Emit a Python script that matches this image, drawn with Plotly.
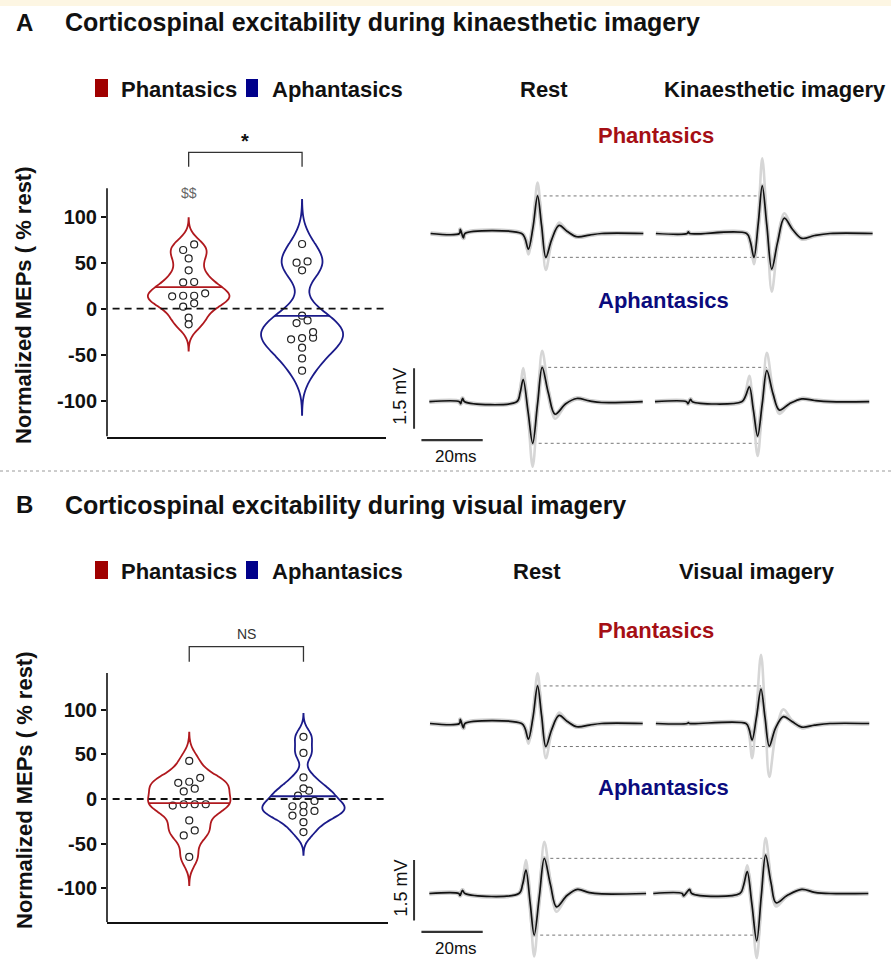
import numpy as np
import plotly.graph_objects as go

W, H = 891, 960
FONT = "Liberation Sans, Arial, sans-serif"
RED = "#B0191E"
BLUE = "#1B1B8A"
RED_TXT = "#A50F15"
BLUE_TXT = "#0B0B7D"
LEG_RED = "#A00000"
LEG_BLUE = "#00008B"

# ---------------- data: normalized MEPs (% rest) ----------------
GROUPS = ["Phantasics", "Aphantasics"]
Y_TICKS = [-100, -50, 0, 50, 100]
Y_TICK_TEXT = ["-100", "-50", "0", "50", "100"]

KIN_PHANT = [63.8, 69.9, 54.7, 41.7, 28.6, 29.0, 13.4, 16.7, 14.1, 14.1, 2.2, 5.8, -9.8, -17.0]
KIN_APHANT = [70.3, 50.0, 51.4, 41.7, -7.6, -12.7, -15.6, -31.5, -25.4, -31.9, -33.3, -42.4, -54.0, -67.4]
VIS_PHANT = [42.6, 23.7, 18.1, 19.3, 11.5, 8.5, -5.9, -5.9, -7.4, -5.9, -24.0, -35.2, -40.7, -64.8]
VIS_APHANT = [69.6, 51.5, 24.1, 9.3, 11.9, 3.7, -7.4, -13.3, -2.2, -8.1, -14.8, -18.5, -25.9, -37.0]

# ---------------- data: MEP waveforms (ms, mV) ----------------
# kinaesthetic panel
KIN_PH_REST_T = [0.2, 9.6, 9.9, 10.9, 11.4, 29.9, 31.0, 32.1, 33.6, 35.1, 36.4, 37.8, 39.7, 42.1, 44.8, 47.9, 52.0, 56.0, 69.6]
KIN_PH_REST_MV = [0, 0, 0.10, -0.11, 0, 0, -0.12, -0.39, 0.15, 0.93, 0.20, -0.59, -0.15, 0.20, 0.05, -0.08, -0.04, 0, 0]
KIN_PH_REST_TRIAL = [0, 0, 0.10, -0.11, 0, 0, -0.16, -0.52, 0.22, 1.26, 0.26, -0.90, -0.22, 0.27, 0.07, -0.10, -0.05, 0, 0]

KIN_PH_IMG_T = [0.2, 10.4, 10.8, 11.2, 29.8, 31.0, 32.2, 33.6, 34.9, 36.4, 38.0, 39.9, 42.1, 44.8, 47.8, 52.0, 57.0, 70.9]
KIN_PH_IMG_MV = [0, 0, 0.04, 0, 0, -0.20, -0.59, 0.25, 1.18, 0.20, -0.88, -0.22, 0.38, 0.10, -0.12, -0.05, 0, 0]
KIN_PH_IMG_TRIAL = [0, 0, 0.04, 0, 0, -0.26, -0.76, 0.34, 1.86, 0.30, -1.44, -0.32, 0.50, 0.13, -0.15, -0.06, 0, 0]

KIN_APH_REST_T = [-0.2, 9.6, 10.0, 10.6, 11.3, 28.3, 29.4, 30.4, 32.0, 33.5, 35.1, 36.6, 38.6, 40.8, 44.3, 47.9, 52.0, 56.0, 69.4]
KIN_APH_REST_MV = [0, 0, -0.05, 0.08, 0, 0, 0.22, 0.55, -0.25, -1.03, -0.05, 0.85, 0.22, -0.31, -0.05, 0.08, 0.02, -0.02, 0]
KIN_APH_REST_TRIAL = [0, 0, -0.05, 0.08, 0, 0, 0.32, 0.83, -0.36, -1.61, -0.10, 1.26, 0.32, -0.42, -0.08, 0.10, 0.03, -0.02, 0]

KIN_APH_IMG_T = [-0.1, 10.2, 10.7, 11.5, 12.1, 28.2, 29.4, 30.7, 32.0, 33.4, 34.9, 36.4, 38.4, 40.5, 43.8, 47.8, 52.0, 57.0, 69.8]
KIN_APH_IMG_MV = [0, 0, -0.05, 0.06, 0, 0, 0.13, 0.37, -0.20, -0.85, -0.05, 0.77, 0.20, -0.21, -0.05, 0.07, 0.03, 0, 0]
KIN_APH_IMG_TRIAL = [0, 0, -0.05, 0.06, 0, 0, 0.22, 0.64, -0.30, -1.34, -0.10, 1.21, 0.30, -0.30, -0.06, 0.09, 0.03, 0, 0]

# visual panel
VIS_PH_REST_T = [0.0, 9.6, 9.9, 10.9, 11.4, 29.9, 31.0, 32.1, 33.6, 35.1, 36.4, 37.8, 39.7, 42.1, 44.8, 47.9, 52.0, 56.0, 69.4]
VIS_PH_REST_MV = [0, 0, 0.10, -0.11, 0, 0, -0.12, -0.39, 0.15, 0.93, 0.20, -0.57, -0.15, 0.20, 0.05, -0.08, -0.04, 0, 0]
VIS_PH_REST_TRIAL = [0, 0, 0.10, -0.11, 0, 0, -0.16, -0.50, 0.22, 1.24, 0.26, -0.86, -0.22, 0.27, 0.07, -0.10, -0.05, 0, 0]

VIS_PH_IMG_T = [0.2, 10.4, 10.8, 11.2, 29.6, 30.6, 31.6, 33.0, 34.5, 35.8, 37.2, 39.2, 41.8, 44.6, 47.8, 52.0, 57.0, 69.8]
VIS_PH_IMG_MV = [0, 0, 0.02, 0, 0, -0.14, -0.41, 0.15, 0.85, 0.15, -0.56, -0.12, 0.17, 0.05, -0.09, -0.04, 0, 0]
VIS_PH_IMG_TRIAL = [0, 0, 0.02, 0, 0, -0.26, -0.86, 0.30, 1.70, 0.30, -1.32, -0.30, 0.35, 0.08, -0.12, -0.04, 0, 0]

VIS_APH_REST_T = [-0.2, 9.4, 9.8, 10.6, 11.4, 29.0, 30.2, 31.3, 32.7, 34.0, 35.7, 37.3, 39.3, 41.3, 44.7, 48.1, 52.0, 56.0, 70.5]
VIS_APH_REST_MV = [0, 0, -0.05, 0.08, 0, 0, 0.22, 0.58, -0.25, -1.03, -0.05, 0.87, 0.22, -0.33, -0.05, 0.10, 0.02, -0.01, 0]
VIS_APH_REST_TRIAL = [0, 0, -0.05, 0.08, 0, 0, 0.32, 0.83, -0.36, -1.56, -0.10, 1.28, 0.32, -0.45, -0.08, 0.12, 0.03, -0.01, 0]

VIS_APH_IMG_T = [-0.65, 8.8, 9.2, 10.2, 11.2, 11.9, 27.6, 28.8, 30.0, 31.5, 33.1, 34.6, 36.0, 37.8, 39.4, 43.0, 47.8, 52.0, 57.0, 69.5]
VIS_APH_IMG_MV = [0, 0, -0.06, 0.02, 0.10, 0, 0, 0.20, 0.54, -0.25, -1.17, -0.05, 0.95, 0.25, -0.23, -0.05, 0.10, 0.03, 0, 0]
VIS_APH_IMG_TRIAL = [0, 0, -0.06, 0.02, 0.10, 0, 0, 0.30, 0.70, -0.36, -1.60, -0.10, 1.37, 0.33, -0.32, -0.07, 0.12, 0.03, 0, 0]

SCALE_MV = 1.5
SCALE_MS = 20

# ---------------- layout helpers ----------------
def fx(px):
    return px / W


def fy(py):
    return 1 - py / H


fig = go.Figure()
shapes = []
annotations = []
layout_axes = {}


def ann(text, px, py, size, color="#111", xanchor="center", yanchor="middle", angle=0, xref="paper", yref="paper", x=None, y=None):
    annotations.append(dict(
        text=text, x=fx(px) if x is None else x, y=fy(py) if y is None else y,
        xref=xref, yref=yref, showarrow=False, xanchor=xanchor, yanchor=yanchor,
        textangle=angle, font=dict(family=FONT, size=size, color=color)))


def swarm_offsets(vals, step, binw=6.5, clash=7.0):
    vals = np.asarray(vals, dtype=float)
    order = np.argsort(vals, kind="stable")
    v = vals[order]
    groups, cur = [], [0]
    for i in range(1, len(v)):
        if v[i] - v[cur[0]] < binw:
            cur.append(i)
        else:
            groups.append(cur)
            cur = [i]
    groups.append(cur)
    off = np.zeros(len(v))
    centres = []
    for g in groups:
        n = len(g)
        if n == 1:
            i = g[0]
            if centres and abs(v[i] - centres[-1]) < clash:
                off[i] = step
            else:
                centres.append(v[i])
        else:
            for k, i in enumerate(g):
                off[i] = (k - (n - 1) / 2) * step
                if off[i] == 0:
                    centres.append(v[i])
    res = np.empty(len(v))
    res[order] = off
    return res


def kde_fraction(vals, bw, span, at):
    """Density at `at` relative to the maximum density over the violin span (Gaussian kernel)."""
    v = np.asarray(vals, dtype=float)
    grid = np.linspace(span[0], span[1], 1500)
    dens = np.exp(-0.5 * ((grid[:, None] - v[None, :]) / bw) ** 2).sum(axis=1)
    d_at = np.exp(-0.5 * ((at - v) / bw) ** 2).sum()
    return d_at / dens.max()


X_RANGE = [-0.72, 1.74]
VIOLIN_WIDTH = 0.72
VIOLIN_PANELS = [
    dict(ax="", xdom=(107, 386), yzero=308.7, pxu=0.92, yrange=[-139, 200], axis_top=131,
         data=[KIN_PHANT, KIN_APHANT], bw=[9.5, 16.0], bracket=(154.3, 170.0),
         sig="<b>*</b>", sig_size=20, sig_py=141, sig_color="#111", dollars=True),
    dict(ax="2", xdom=(107, 388), yzero=799.0, pxu=0.894, yrange=[-138, 190], axis_top=141,
         data=[VIS_PHANT, VIS_APHANT], bw=[10.5, 8.5], bracket=(153.6, 170.4),
         sig="NS", sig_size=14, sig_py=634, sig_color="#333", dollars=False),
]

for P in VIOLIN_PANELS:
    a = P["ax"]
    xa, ya = "x" + a, "y" + a
    ybot_px = P["yzero"] - P["yrange"][0] * P["pxu"]
    ytop_px = P["yzero"] - P["yrange"][1] * P["pxu"]
    layout_axes["xaxis" + a] = dict(domain=[fx(P["xdom"][0]), fx(P["xdom"][1])], range=X_RANGE, type="linear",
                                    anchor=ya, showline=True, linecolor="#111", linewidth=1.6,
                                    showticklabels=False, ticks="", showgrid=False, zeroline=False, fixedrange=True)
    layout_axes["yaxis" + a] = dict(domain=[fy(ybot_px), fy(ytop_px)], range=P["yrange"], anchor=xa,
                                    showline=False, showgrid=False, zeroline=False, ticks="outside", ticklen=5,
                                    tickwidth=1.6, tickcolor="#111", tickvals=Y_TICKS, ticktext=Y_TICK_TEXT,
                                    tickfont=dict(family=FONT, size=20, color="#111", weight="bold"), fixedrange=True)
    step = 11.0 / ((P["xdom"][1] - P["xdom"][0]) / (X_RANGE[1] - X_RANGE[0]))
    for pos, (vals, col, bw) in enumerate(zip(P["data"], [RED, BLUE], P["bw"])):
        span = [min(vals) - 3 * bw, max(vals) + 3 * bw]
        fig.add_trace(go.Violin(
            x=[pos] * len(vals), y=vals, xaxis=xa, yaxis=ya, name=GROUPS[pos],
            line=dict(color=col, width=1.8), fillcolor="rgba(0,0,0,0)", points=False,
            box_visible=False, meanline_visible=False,
            bandwidth=bw, spanmode="manual", span=span,
            scalemode="width", width=VIOLIN_WIDTH, showlegend=False, hoverinfo="skip"))
        # mean line spanning the violin at the sample mean
        m = float(np.mean(vals))
        hw = VIOLIN_WIDTH / 2 * kde_fraction(vals, bw, span, m)
        shapes.append(dict(type="line", xref=xa, yref=ya, x0=pos - hw, x1=pos + hw, y0=m, y1=m,
                           line=dict(color=col, width=1.8)))
        offs = swarm_offsets(vals, step)
        fig.add_trace(go.Scatter(
            x=pos + offs, y=vals, xaxis=xa, yaxis=ya, mode="markers", showlegend=False,
            hoverinfo="skip", cliponaxis=False,
            marker=dict(symbol="circle", size=7, color="white", line=dict(color="#222", width=1.2))))
    # y axis line
    shapes.append(dict(type="line", xref=xa + " domain", yref=ya, x0=0, x1=0,
                       y0=P["yrange"][0], y1=P["axis_top"], line=dict(color="#111", width=1.6)))
    # zero reference
    shapes.append(dict(type="line", xref=xa + " domain", yref=ya, x0=0.02, x1=1.0, y0=0, y1=0,
                       line=dict(color="#111", width=1.8, dash="7px,5px")))
    # significance bracket
    b0, b1 = P["bracket"]
    shapes.append(dict(type="path", xref=xa, yref=ya,
                       path=f"M 0 {b0} L 0 {b1} L 1 {b1} L 1 {b0}", line=dict(color="#333", width=1.3)))
    ann(P["sig"], 0, P["sig_py"], P["sig_size"], color=P["sig_color"], xref=xa, x=0.5)
    if P["dollars"]:
        ann("$$", 0, 0, 14, color="#666", xref=xa, yref=ya, x=0, y=126)

# ---------------- waveform rows ----------------
PX_MS = 3.065
PX_MV = 40.4
KI_OFFSET = 73.5
TR_ORIGIN_PX = 430.0
TR_X_RANGE = [-6, 146]
MV_TOP, MV_BOT = 2.0, 1.64

ROWS = [
    dict(ax="3", base=233.5, rest=(KIN_PH_REST_T, KIN_PH_REST_MV, KIN_PH_REST_TRIAL),
         img=(KIN_PH_IMG_T, KIN_PH_IMG_MV, KIN_PH_IMG_TRIAL), bars=False),
    dict(ax="4", base=401.7, rest=(KIN_APH_REST_T, KIN_APH_REST_MV, KIN_APH_REST_TRIAL),
         img=(KIN_APH_IMG_T, KIN_APH_IMG_MV, KIN_APH_IMG_TRIAL), bars=True),
    dict(ax="5", base=723.5, rest=(VIS_PH_REST_T, VIS_PH_REST_MV, VIS_PH_REST_TRIAL),
         img=(VIS_PH_IMG_T, VIS_PH_IMG_MV, VIS_PH_IMG_TRIAL), bars=False),
    dict(ax="6", base=893.5, rest=(VIS_APH_REST_T, VIS_APH_REST_MV, VIS_APH_REST_TRIAL),
         img=(VIS_APH_IMG_T, VIS_APH_IMG_MV, VIS_APH_IMG_TRIAL), bars=True),
]

for R in ROWS:
    a = R["ax"]
    xa, ya = "x" + a, "y" + a
    layout_axes["xaxis" + a] = dict(domain=[fx(TR_ORIGIN_PX + TR_X_RANGE[0] * PX_MS), fx(TR_ORIGIN_PX + TR_X_RANGE[1] * PX_MS)],
                                    range=TR_X_RANGE, anchor=ya, visible=False, fixedrange=True)
    layout_axes["yaxis" + a] = dict(domain=[fy(R["base"] + MV_BOT * PX_MV), fy(R["base"] - MV_TOP * PX_MV)],
                                    range=[-MV_BOT, MV_TOP], anchor=xa, visible=False, fixedrange=True)
    ext = {}
    for key, shift in (("rest", 0.0), ("img", KI_OFFSET)):
        t, mv, trial = R[key]
        tx = [ti + shift for ti in t]
        fig.add_trace(go.Scatter(x=tx, y=trial, xaxis=xa, yaxis=ya, mode="lines", line_shape="spline",
                                 line=dict(color="#D6D6D6", width=2.6), showlegend=False, hoverinfo="skip"))
        fig.add_trace(go.Scatter(x=tx, y=mv, xaxis=xa, yaxis=ya, mode="lines", line_shape="spline",
                                 line=dict(color="#CDCDCD", width=4.5), showlegend=False, hoverinfo="skip"))
        fig.add_trace(go.Scatter(x=tx, y=mv, xaxis=xa, yaxis=ya, mode="lines", line_shape="spline",
                                 line=dict(color="#111", width=1.7), showlegend=False, hoverinfo="skip"))
        imax, imin = int(np.argmax(mv)), int(np.argmin(mv))
        ext[key] = dict(tmax=tx[imax], vmax=mv[imax], tmin=tx[imin], vmin=mv[imin])
    # dotted reference lines at the rest peak and trough
    for tk, vk in (("tmax", "vmax"), ("tmin", "vmin")):
        shapes.append(dict(type="line", xref=xa, yref=ya, layer="below",
                           x0=ext["rest"][tk], x1=ext["img"][tk], y0=ext["rest"][vk], y1=ext["rest"][vk],
                           line=dict(color="#777", width=1, dash="dot")))
    if R["bars"]:
        shapes.append(dict(type="line", xref=xa, yref=ya, x0=-5.2, x1=-5.2, y0=-0.67, y1=-0.67 + SCALE_MV,
                           line=dict(color="#333", width=2)))
        shapes.append(dict(type="line", xref=xa, yref=ya, x0=-2.8, x1=-2.8 + SCALE_MS, y0=-0.95, y1=-0.95,
                           line=dict(color="#333", width=2.2)))
        ann(f"{SCALE_MV} mV", 400, R["base"] - 5, 18, angle=-90)
        ann(f"{SCALE_MS}ms", 456, R["base"] + 55, 17)

# ---------------- panel text ----------------
PANELS_TXT = [
    dict(letter="A", title="Corticospinal excitability during kinaesthetic imagery", ty=22, leg_y=88,
         rest_x=544, img_x=775, img_label="Kinaesthetic imagery", ytitle_y=305, ph_y=136, aph_y=300),
    dict(letter="B", title="Corticospinal excitability during visual imagery", ty=505, leg_y=570,
         rest_x=537, img_x=757, img_label="Visual imagery", ytitle_y=790, ph_y=630, aph_y=787),
]
for T in PANELS_TXT:
    ann(f"<b>{T['letter']}</b>", 14, T["ty"], 24, xanchor="left")
    ann(f"<b>{T['title']}</b>", 63, T["ty"], 25, xanchor="left")
    # legend
    for (x0, x1, col) in ((95, 108, LEG_RED), (246, 258, LEG_BLUE)):
        shapes.append(dict(type="rect", xref="paper", yref="paper", x0=fx(x0), x1=fx(x1),
                           y0=fy(T["leg_y"] + 9), y1=fy(T["leg_y"] - 9), fillcolor=col, line=dict(width=0)))
    ann(f"<b>{GROUPS[0]}</b>", 119, T["leg_y"] + 1, 22, xanchor="left")
    ann(f"<b>{GROUPS[1]}</b>", 270, T["leg_y"] + 1, 22, xanchor="left")
    ann("<b>Rest</b>", T["rest_x"], T["leg_y"] + 1, 22)
    ann(f"<b>{T['img_label']}</b>", T["img_x"], T["leg_y"] + 1, 22)
    ann("<b>Normalized MEPs ( % rest)</b>", 24, T["ytitle_y"], 22, angle=-90)
    ann(f"<b>{GROUPS[0]}</b>", 596, T["ph_y"], 22, color=RED_TXT, xanchor="left")
    ann(f"<b>{GROUPS[1]}</b>", 596, T["aph_y"], 22, color=BLUE_TXT, xanchor="left")

# separator and top band
shapes.append(dict(type="line", xref="paper", yref="paper", x0=0, x1=1, y0=fy(471), y1=fy(471),
                   line=dict(color="#9a9a9a", width=1, dash="dot")))
shapes.append(dict(type="rect", xref="paper", yref="paper", x0=0, x1=1, y0=fy(6), y1=1,
                   fillcolor="#FDF6E3", line=dict(width=0), layer="below"))

fig.update_layout(
    width=W, height=H, margin=dict(l=0, r=0, t=0, b=0), autosize=False,
    paper_bgcolor="white", plot_bgcolor="rgba(0,0,0,0)",
    violinmode="overlay", showlegend=False,
    font=dict(family=FONT, color="#111"),
    shapes=shapes, annotations=annotations, **layout_axes)

fig.write_html("out.html", config={"displayModeBar": False},
               post_script="document.body.style.margin='0px';document.body.style.overflow='hidden';")
